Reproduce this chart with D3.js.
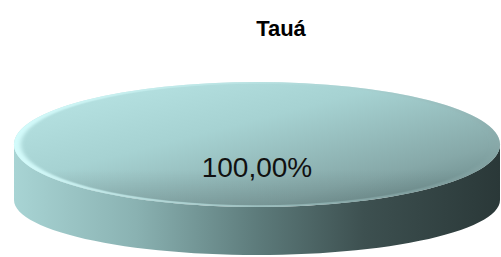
<!DOCTYPE html>
<html>
<head>
<meta charset="utf-8">
<script src="https://cdn.jsdelivr.net/npm/d3@7"></script>
<style>
  html, body { margin: 0; padding: 0; background: #fff; }
  svg { display: block; }
</style>
</head>
<body>
<svg id="chart" width="501" height="257"></svg>
<script>
// data
const title = "Tauá";
const categories = ["Tauá"];
const values = [100];

const svg = d3.select("#chart");

// pie geometry (top face and bottom edge of the disc)
const cx = 257, rx = 243;
const topE = { cy: 144.5, ry: 62.5 };
const botE = { cy: 200, ry: 55 };

const fmt = d3.formatLocale({ decimal: ",", thousands: ".", grouping: [3], currency: ["", ""] }).format(".2f");
const total = d3.sum(values);

const pie = d3.pie().sort(null)(values);
const arc = d3.arc().innerRadius(0).outerRadius(rx);
const topTransform = `translate(${cx},${topE.cy}) scale(1,${topE.ry / rx})`;

const defs = svg.append("defs");

let g = defs.append("linearGradient").attr("id", "topGrad")
  .attr("x1", "0").attr("y1", "0").attr("x2", "1").attr("y2", "1");
g.append("stop").attr("offset", "0%").attr("stop-color", "#bce8e8");
g.append("stop").attr("offset", "40%").attr("stop-color", "#a6d2d2");
g.append("stop").attr("offset", "75%").attr("stop-color", "#86a8a8");
g.append("stop").attr("offset", "100%").attr("stop-color", "#5f7c7c");

g = defs.append("linearGradient").attr("id", "sideGrad")
  .attr("x1", "0").attr("y1", "0").attr("x2", "1").attr("y2", "0");
g.append("stop").attr("offset", "0%").attr("stop-color", "#a8d4d4");
g.append("stop").attr("offset", "25%").attr("stop-color", "#8ab2b2");
g.append("stop").attr("offset", "50%").attr("stop-color", "#5d7b7b");
g.append("stop").attr("offset", "72%").attr("stop-color", "#3d5050");
g.append("stop").attr("offset", "100%").attr("stop-color", "#2a3838");

g = defs.append("linearGradient").attr("id", "rimGrad")
  .attr("x1", "0").attr("y1", "0").attr("x2", "1").attr("y2", "0");
g.append("stop").attr("offset", "0%").attr("stop-color", "#d8ffff").attr("stop-opacity", 0.9);
g.append("stop").attr("offset", "50%").attr("stop-color", "#c0e8e8").attr("stop-opacity", 0.5);
g.append("stop").attr("offset", "100%").attr("stop-color", "#8aa8a8").attr("stop-opacity", 0.3);

g = defs.append("linearGradient").attr("id", "shadeGrad")
  .attr("x1", "0").attr("y1", "0").attr("x2", "0").attr("y2", "1");
g.append("stop").attr("offset", "0%").attr("stop-color", "#000").attr("stop-opacity", 0);
g.append("stop").attr("offset", "70%").attr("stop-color", "#000").attr("stop-opacity", 0);
g.append("stop").attr("offset", "100%").attr("stop-color", "#000").attr("stop-opacity", 0.12);

defs.append("filter").attr("id", "blur").attr("x", "-5%").attr("y", "-5%").attr("width", "110%").attr("height", "110%")
  .append("feGaussianBlur").attr("stdDeviation", 2);

defs.append("clipPath").attr("id", "topClip")
  .append("path").attr("transform", topTransform)
  .attr("d", arc(pie[0]));

// point on an ellipse at pie angle a (0 = 12 o'clock, clockwise)
const pt = (e, a) => [cx + rx * Math.sin(a), e.cy - e.ry * Math.cos(a)];

function sidePath(d) {
  const a0 = Math.max(d.startAngle, Math.PI / 2);
  const a1 = Math.min(d.endAngle, 3 * Math.PI / 2);
  if (a1 <= a0) return null;
  const p = d3.path();
  const n = 60;
  for (let i = 0; i <= n; i++) {
    const [x, y] = pt(topE, a0 + (a1 - a0) * i / n);
    i ? p.lineTo(x, y) : p.moveTo(x, y);
  }
  for (let i = n; i >= 0; i--) {
    const [x, y] = pt(botE, a0 + (a1 - a0) * i / n);
    p.lineTo(x, y);
  }
  p.closePath();
  return p.toString();
}

const slices = svg.append("g").selectAll("g").data(pie).join("g");

slices.append("path")
  .attr("d", sidePath)
  .attr("fill", "url(#sideGrad)");

slices.append("path")
  .attr("transform", topTransform)
  .attr("d", arc)
  .attr("fill", "url(#topGrad)");

slices.append("path")
  .attr("transform", topTransform)
  .attr("d", arc)
  .attr("fill", "url(#shadeGrad)");

// bevel on the top edge
slices.append("g").attr("clip-path", "url(#topClip)")
  .append("path")
  .attr("transform", topTransform)
  .attr("d", arc)
  .attr("fill", "none")
  .attr("stroke", "url(#rimGrad)")
  .attr("stroke-width", 14)
  .attr("filter", "url(#blur)");

slices.append("text")
  .attr("x", cx)
  .attr("y", 177)
  .attr("text-anchor", "middle")
  .attr("font-family", "Arial, 'Liberation Sans', sans-serif")
  .attr("font-size", 28)
  .attr("fill", "#111")
  .text(d => fmt(d.data / total * 100) + "%");

svg.append("text")
  .attr("x", 281)
  .attr("y", 36)
  .attr("text-anchor", "middle")
  .attr("font-family", "Arial, 'Liberation Sans', sans-serif")
  .attr("font-weight", "bold")
  .attr("font-size", 22)
  .attr("fill", "#000")
  .text(title);
</script>
</body>
</html>
